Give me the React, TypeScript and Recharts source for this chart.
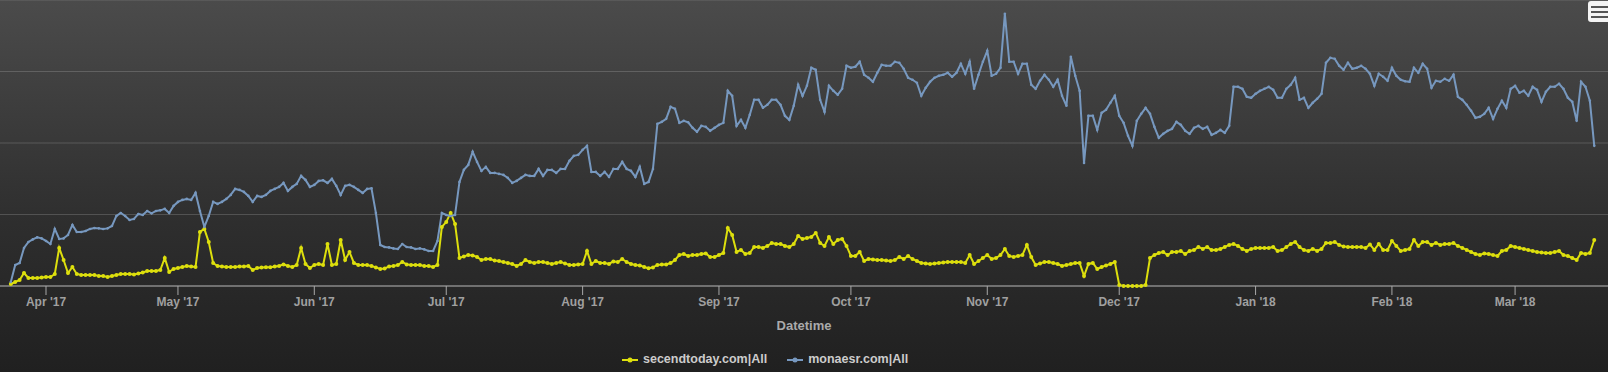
import { CartesianGrid, Line, LineChart, XAxis, YAxis } from "recharts";

const DAY = 86400000;
const FIRST_DAY = Date.UTC(2017, 2, 24); // Mar 24 2017, one point per day

// secendtoday.com|All
const secendtoday = [
  14, 28, 42, 91, 56, 56, 56, 60, 63, 63,
  84, 266, 182, 91, 133, 84, 77, 77, 77, 77,
  70, 70, 63, 70, 77, 84, 84, 84, 80, 88,
  95, 105, 105, 105, 112, 196, 98, 119, 126, 133,
  140, 137, 133, 378, 399, 308, 161, 140, 137, 133,
  133, 133, 137, 137, 140, 112, 126, 130, 131, 131,
  137, 140, 151, 140, 133, 147, 266, 154, 126, 147,
  154, 147, 294, 147, 154, 322, 182, 238, 161, 147,
  147, 147, 140, 130, 119, 123, 137, 140, 147, 168,
  151, 147, 147, 147, 140, 140, 133, 147, 413, 448,
  511, 434, 196, 207, 217, 214, 203, 182, 189, 189,
  179, 175, 168, 161, 154, 140, 154, 182, 168, 161,
  168, 168, 161, 154, 161, 168, 158, 147, 147, 151,
  154, 245, 154, 175, 161, 161, 154, 172, 168, 189,
  168, 154, 147, 144, 133, 124, 130, 147, 151, 151,
  161, 182, 217, 224, 210, 217, 217, 224, 228, 203,
  203, 217, 231, 406, 357, 238, 252, 224, 231, 273,
  273, 266, 280, 301, 294, 294, 280, 273, 294, 350,
  329, 336, 343, 371, 301, 280, 343, 294, 322, 329,
  280, 210, 210, 238, 175, 189, 186, 182, 182, 179,
  175, 182, 203, 189, 210, 189, 175, 161, 158, 154,
  158, 161, 165, 168, 168, 168, 168, 161, 217, 154,
  175, 196, 217, 189, 196, 217, 259, 210, 203, 210,
  217, 287, 203, 147, 158, 168, 168, 161, 154, 140,
  147, 154, 161, 161, 70, 154, 161, 119, 133, 144,
  154, 168, 7, 0, 0, 0, 0, 0, 7, 196,
  217, 231, 238, 217, 238, 238, 245, 224, 245, 252,
  273, 259, 273, 252, 252, 259, 273, 287, 294, 280,
  259, 245, 259, 266, 266, 266, 266, 273, 245, 252,
  273, 294, 308, 273, 252, 245, 259, 245, 259, 301,
  301, 308, 287, 277, 273, 273, 273, 273, 266, 291,
  252, 294, 252, 252, 315, 280, 245, 252, 259, 322,
  280, 308, 308, 287, 301, 287, 294, 294, 301, 280,
  266, 252, 238, 224, 217, 228, 224, 217, 210, 245,
  252, 280, 273, 266, 259, 252, 245, 238, 235, 231,
  231, 238, 245, 217, 210, 196, 182, 231, 224, 231, 322,
];

// monaesr.com|All
const monaesr = [
  28, 147, 161, 266, 308, 326, 340, 333, 315, 294,
  399, 329, 333, 357, 427, 378, 378, 385, 399, 406,
  403, 399, 403, 420, 490, 511, 490, 462, 469, 504,
  497, 525, 508, 525, 529, 539, 511, 560, 588, 602,
  609, 602, 651, 525, 413, 490, 588, 574, 588, 609,
  637, 679, 672, 658, 630, 588, 630, 623, 637, 665,
  679, 693, 721, 665, 693, 714, 770, 742, 693, 707,
  735, 739, 721, 749, 700, 637, 700, 707, 693, 672,
  651, 679, 683, 511, 287, 273, 270, 263, 259, 294,
  273, 270, 259, 263, 256, 245, 245, 315, 511, 497,
  490, 497, 728, 812, 847, 938, 868, 805, 833, 791,
  791, 784, 777, 756, 721, 735, 756, 777, 770, 770,
  819, 770, 812, 812, 791, 819, 819, 875, 910, 917,
  952, 980, 798, 798, 770, 798, 763, 819, 819, 868,
  819, 805, 763, 833, 714, 728, 819, 1134, 1148, 1169,
  1253, 1239, 1141, 1155, 1145, 1106, 1078, 1120, 1113, 1085,
  1106, 1127, 1141, 1365, 1330, 1120, 1162, 1106, 1197, 1302,
  1302, 1246, 1267, 1302, 1302, 1267, 1190, 1162, 1260, 1407,
  1330, 1400, 1526, 1512, 1302, 1218, 1400, 1365, 1337, 1379,
  1540, 1526, 1533, 1568, 1477, 1456, 1428, 1491, 1547, 1540,
  1540, 1568, 1561, 1519, 1456, 1442, 1421, 1330, 1386, 1428,
  1456, 1470, 1477, 1491, 1463, 1491, 1554, 1484, 1568, 1379,
  1477, 1568, 1645, 1470, 1484, 1526, 1904, 1568, 1568, 1484,
  1554, 1554, 1407, 1379, 1435, 1477, 1442, 1393, 1442, 1330,
  1260, 1603, 1470, 1365, 861, 1190, 1190, 1092, 1211, 1232,
  1281, 1330, 1190, 1141, 1050, 980, 1155, 1204, 1246, 1204,
  1113, 1036, 1064, 1085, 1099, 1148, 1127, 1085, 1064, 1106,
  1120, 1099, 1113, 1057, 1071, 1092, 1071, 1120, 1393, 1393,
  1379, 1323, 1316, 1344, 1365, 1379, 1393, 1372, 1316, 1316,
  1379, 1407, 1456, 1302, 1316, 1246, 1281, 1309, 1344, 1561,
  1596, 1589, 1540, 1512, 1561, 1519, 1526, 1540, 1519, 1484,
  1400, 1484, 1463, 1435, 1526, 1470, 1442, 1432, 1428, 1526,
  1491, 1554, 1519, 1386, 1435, 1428, 1449, 1435, 1477, 1323,
  1302, 1267, 1225, 1176, 1183, 1204, 1246, 1169, 1239, 1295,
  1246, 1379, 1400, 1351, 1365, 1330, 1393, 1372, 1288, 1358,
  1393, 1393, 1414, 1379, 1316, 1288, 1155, 1428, 1393, 1295, 980,
];

// month ticks: [year, monthIndex]
const tickMonths: [number, number][] = [
  [2017, 3], [2017, 4], [2017, 5], [2017, 6], [2017, 7], [2017, 8],
  [2017, 9], [2017, 10], [2017, 11], [2018, 0], [2018, 1], [2018, 2],
];
const MONTH_NAMES = ["Jan", "Feb", "Mar", "Apr", "May", "Jun", "Jul", "Aug", "Sep", "Oct", "Nov", "Dec"];

const YELLOW = "#DDDF0D";
const BLUE = "#7798BF";
const FONT = '"Liberation Sans", Arial, sans-serif';

const rows = secendtoday.map((v, i) => ({
  t: FIRST_DAY + i * DAY,
  secendtoday: v,
  monaesr: monaesr[i],
}));

const ticks = tickMonths.map(([y, m]) => Date.UTC(y, m, 1));
const fmtTick = (t: number) => {
  const d = new Date(t);
  return `${MONTH_NAMES[d.getUTCMonth()]} '${String(d.getUTCFullYear()).slice(2)}`;
};

function LegendItem({ color, label }: { color: string; label: string }) {
  return (
    <div style={{ display: "flex", alignItems: "center", marginRight: 20 }}>
      <svg width={16} height={12} style={{ marginRight: 5 }}>
        <line x1={0} y1={6} x2={16} y2={6} stroke={color} strokeWidth={2} />
        <circle cx={8} cy={6} r={2.5} fill={color} />
      </svg>
      <span>{label}</span>
    </div>
  );
}

export default function App() {
  return (
    <div
      style={{
        position: "fixed",
        top: 0,
        left: 0,
        width: 1608,
        height: 372,
        overflow: "hidden",
        background: "linear-gradient(to bottom, #4b4b4b 0%, #2e2e2e 60%, #202020 100%)",
        fontFamily: FONT,
      }}
    >
      <LineChart width={1608} height={372} data={rows} margin={{ top: 0, right: 0, bottom: 36, left: 0 }}>
        <CartesianGrid vertical={false} stroke="rgba(255,255,255,0.17)" />
        <YAxis hide domain={[0, 2000]} ticks={[0, 500, 1000, 1500]} />
        <XAxis
          dataKey="t"
          type="number"
          domain={[Date.UTC(2017, 2, 21, 13), Date.UTC(2018, 2, 22, 3)]}
          allowDataOverflow
          ticks={ticks}
          tickFormatter={fmtTick}
          height={50}
          stroke="#a8a8a8"
          tickSize={9}
          tick={{ fill: "#a0a0a0", fontSize: 12, fontWeight: "bold", fontFamily: FONT }}
          label={{
            value: "Datetime",
            position: "insideBottom",
            offset: 6,
            fill: "#aaaaaa",
            fontSize: 13,
            fontWeight: "bold",
            fontFamily: FONT,
          }}
        />
        <Line
          dataKey="secendtoday"
          stroke={YELLOW}
          strokeWidth={2}
          dot={{ r: 2, fill: YELLOW, stroke: "none" }}
          activeDot={false}
          isAnimationActive={false}
        />
        <Line
          dataKey="monaesr"
          stroke={BLUE}
          strokeWidth={2}
          dot={{ r: 1.3, fill: BLUE, stroke: "none" }}
          activeDot={false}
          isAnimationActive={false}
        />
      </LineChart>

      <div
        style={{
          position: "absolute",
          top: 352,
          left: 622,
          display: "flex",
          color: "#cccccc",
          fontSize: 12.5,
          fontWeight: "bold",
          lineHeight: "15px",
        }}
      >
        <LegendItem color={YELLOW} label="secendtoday.com|All" />
        <LegendItem color={BLUE} label="monaesr.com|All" />
      </div>

      <div
        style={{
          position: "absolute",
          top: 1,
          left: 1588,
          width: 22,
          height: 21,
          background: "#f4f4f4",
          borderRadius: 3,
        }}
      >
        {[5, 10, 15].map((y) => (
          <div key={y} style={{ position: "absolute", top: y, left: 3, width: 17, height: 2, background: "#555" }} />
        ))}
      </div>
    </div>
  );
}
